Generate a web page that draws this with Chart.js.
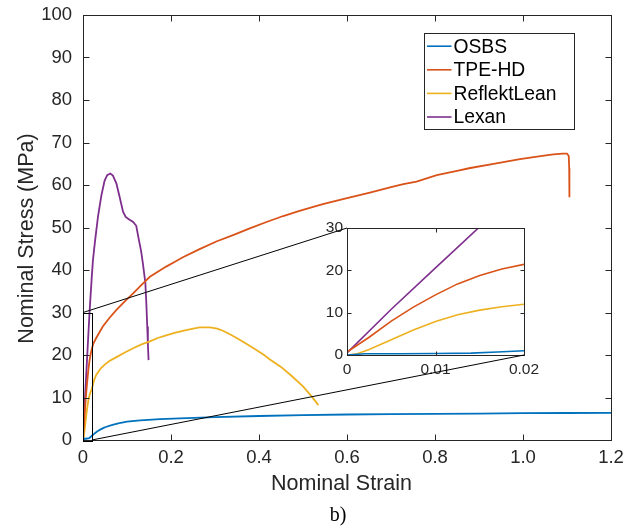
<!DOCTYPE html>
<html>
<head>
<meta charset="utf-8">
<script src="https://cdn.jsdelivr.net/npm/chart.js@4.4.1/dist/chart.umd.min.js"></script>
<style>
  html, body { margin: 0; padding: 0; background: #ffffff; }
  #wrap { position: relative; width: 635px; height: 530px; overflow: hidden; }
  #inset { position: absolute; left: 300px; top: 210px; }
  #main { position: absolute; left: 0; top: 0; }
</style>
</head>
<body>
<div id="wrap">
  <canvas id="inset" width="260" height="190"></canvas>
  <canvas id="main" width="635" height="530"></canvas>
</div>
<script>
// ---------- DATA ----------
const seriesNames = ['OSBS', 'TPE-HD', 'ReflektLean', 'Lexan'];

const osbsStrain = [0, 0.002, 0.006, 0.01, 0.014, 0.017, 0.02, 0.023, 0.027, 0.032, 0.04, 0.046, 0.05, 0.065, 0.08, 0.1, 0.13, 0.175, 0.22, 0.3, 0.4, 0.5, 0.6, 0.7, 0.8, 0.9, 1.0, 1.1, 1.2];
const osbsStress = [0, 0.3, 0.3, 0.35, 0.45, 0.7, 1.0, 1.2, 1.6, 2.0, 2.5, 2.8, 3.0, 3.5, 3.9, 4.3, 4.6, 4.9, 5.1, 5.4, 5.65, 5.85, 6.0, 6.1, 6.15, 6.2, 6.3, 6.35, 6.4];

const tpeStrain = [0, 0.0025, 0.005, 0.0075, 0.01, 0.0125, 0.015, 0.0175, 0.02, 0.0235, 0.03, 0.045, 0.06, 0.076, 0.095, 0.114, 0.133, 0.152, 0.17, 0.189, 0.208, 0.227, 0.265, 0.303, 0.341, 0.379, 0.417, 0.455, 0.492, 0.545, 0.6, 0.652, 0.7, 0.728, 0.758, 0.804, 0.85, 0.88, 0.93, 0.993, 1.04, 1.069, 1.09, 1.1, 1.104, 1.105, 1.1055];
const tpeStress = [0.7, 4.2, 8.0, 11.3, 14.2, 16.8, 18.8, 20.3, 21.4, 22.7, 24.0, 26.7, 28.7, 30.6, 32.6, 34.5, 36.5, 38.4, 39.6, 40.8, 41.9, 43.0, 44.9, 46.7, 48.2, 49.8, 51.3, 52.7, 53.9, 55.5, 56.9, 58.2, 59.5, 60.2, 60.8, 62.3, 63.3, 64.0, 64.9, 66.1, 66.8, 67.2, 67.4, 67.4, 66.8, 64.0, 57.1];

const reflektStrain = [0, 0.001, 0.0025, 0.005, 0.0075, 0.01, 0.0125, 0.015, 0.0175, 0.02, 0.025, 0.03, 0.04, 0.05, 0.06, 0.076, 0.095, 0.114, 0.133, 0.152, 0.17, 0.189, 0.208, 0.227, 0.245, 0.265, 0.288, 0.305, 0.318, 0.337, 0.356, 0.375, 0.394, 0.41, 0.424, 0.45, 0.475, 0.5, 0.52, 0.535];
const reflektStress = [0, 0.2, 1.3, 3.6, 5.9, 7.9, 9.5, 10.6, 11.4, 12.0, 14.0, 15.3, 16.8, 17.8, 18.6, 19.5, 20.6, 21.6, 22.5, 23.2, 24.0, 24.6, 25.2, 25.7, 26.1, 26.5, 26.5, 26.2, 25.7, 24.7, 23.6, 22.4, 21.2, 20.1, 19.0, 17.2, 15.0, 12.6, 10.2, 8.2];

const lexanStrain = [0, 0.005, 0.01, 0.015, 0.02, 0.0227, 0.027, 0.034, 0.0417, 0.049, 0.055, 0.062, 0.068, 0.0758, 0.083, 0.091, 0.097, 0.105, 0.114, 0.121, 0.127, 0.132, 0.136, 0.1417, 0.144, 0.146, 0.1475, 0.149];
const lexanStress = [0.5, 10.8, 20.6, 30.3, 38.5, 42.4, 46.5, 52.5, 57.5, 61.0, 62.3, 62.7, 62.2, 60.4, 57.3, 53.7, 52.5, 51.9, 51.3, 50.4, 47.1, 44.5, 41.6, 37.0, 32.0, 26.7, 22.5, 18.8];

const xTickValues = [0, 0.2, 0.4, 0.6, 0.8, 1, 1.2];
const yTickValues = [0, 10, 20, 30, 40, 50, 60, 70, 80, 90, 100];
const insetXTickValues = [0, 0.01, 0.02];
const insetYTickValues = [0, 10, 20, 30];
const insetXRange = [0, 0.02];
const insetYRange = [0, 30];

const xTitle = 'Nominal Strain';
const yTitle = 'Nominal Stress (MPa)';
const caption = 'b)';

// ---------- STYLE ----------
const seriesColors = ['#0072BD', '#D95319', '#EDB120', '#7E2F8E'];
const axisColor = '#262626';
const sans = "'Liberation Sans', Arial, Helvetica, sans-serif";
Chart.defaults.font.family = sans;
Chart.defaults.color = axisColor;

const seriesData = [
  [osbsStrain, osbsStress],
  [tpeStrain, tpeStress],
  [reflektStrain, reflektStress],
  [lexanStrain, lexanStress]
];

function makeDatasets(lw) {
  return seriesData.map(([xs, ys], i) => ({
    label: seriesNames[i],
    data: xs.map((x, k) => ({ x: x, y: ys[k] })),
    borderColor: seriesColors[i],
    backgroundColor: seriesColors[i],
    borderWidth: lw,
    pointRadius: 0,
    showLine: true,
    tension: 0,
    fill: false
  }));
}

// frame + inward ticks on all four sides
const framePlugin = {
  id: 'frame',
  afterDraw(chart, args, opts) {
    const { ctx, chartArea: a, scales: { x, y } } = chart;
    const L = opts.tick || 6;
    ctx.save();
    ctx.strokeStyle = axisColor;
    ctx.lineWidth = 1;
    const l = Math.round(a.left) + 0.5, r = Math.round(a.right) + 0.5;
    const t = Math.round(a.top) + 0.5, b = Math.round(a.bottom) + 0.5;
    ctx.strokeRect(l, t, r - l, b - t);
    ctx.beginPath();
    x.ticks.forEach(tk => {
      const p = Math.round(x.getPixelForValue(tk.value)) + 0.5;
      ctx.moveTo(p, b); ctx.lineTo(p, b - L);
      ctx.moveTo(p, t); ctx.lineTo(p, t + L);
    });
    y.ticks.forEach(tk => {
      const p = Math.round(y.getPixelForValue(tk.value)) + 0.5;
      ctx.moveTo(l, p); ctx.lineTo(l + L, p);
      ctx.moveTo(r, p); ctx.lineTo(r - L, p);
    });
    ctx.stroke();
    ctx.restore();
  }
};

// ---------- INSET CHART ----------
const insetChart = new Chart(document.getElementById('inset'), {
  type: 'scatter',
  data: { datasets: makeDatasets(1.6) },
  options: {
    responsive: false,
    animation: false,
    devicePixelRatio: 1,
    layout: { padding: { left: 0, top: 18, right: 36, bottom: 0 } },
    plugins: { legend: { display: false }, tooltip: { enabled: false }, frame: { tick: 4 } },
    scales: {
      x: {
        type: 'linear', min: insetXRange[0], max: insetXRange[1],
        afterBuildTicks: s => { s.ticks = insetXTickValues.map(v => ({ value: v })); },
        afterFit: s => { s.height = 45; },
        grid: { display: false, drawTicks: true, tickLength: 5.3 },
        border: { display: false },
        ticks: { font: { size: 15.5 }, padding: 0, maxRotation: 0, color: axisColor }
      },
      y: {
        type: 'linear', min: insetYRange[0], max: insetYRange[1],
        afterBuildTicks: s => { s.ticks = insetYTickValues.map(v => ({ value: v })); },
        afterFit: s => { s.width = 47; },
        grid: { display: false, drawTicks: true, tickLength: 4 },
        border: { display: false },
        ticks: { font: { size: 15.5 }, padding: 0, color: axisColor }
      }
    }
  },
  plugins: [framePlugin]
});
const insetOffset = { left: 300, top: 210 };

// ---------- MAIN CHART PLUGINS ----------
const zoomLinkPlugin = {
  id: 'zoomLink',
  afterDraw(chart) {
    const { ctx, scales: { x, y } } = chart;
    const ia = insetChart.chartArea;
    const x0 = x.getPixelForValue(insetXRange[0]), x1 = x.getPixelForValue(insetXRange[1]);
    const y0 = y.getPixelForValue(insetYRange[0]), y1 = y.getPixelForValue(insetYRange[1]);
    ctx.save();
    ctx.strokeStyle = '#000000';
    ctx.lineWidth = 1;
    ctx.strokeRect(Math.round(x0) + 0.5, Math.round(y1) + 0.5, Math.round(x1 - x0), Math.round(y0 - y1));
    ctx.beginPath();
    ctx.moveTo(x0, y1);
    ctx.lineTo(insetOffset.left + ia.left, insetOffset.top + ia.top);
    ctx.moveTo(x1, y0);
    ctx.lineTo(insetOffset.left + ia.right, insetOffset.top + ia.bottom);
    ctx.stroke();
    ctx.restore();
  }
};

const legendPlugin = {
  id: 'boxLegend',
  afterDraw(chart) {
    const { ctx, chartArea: a } = chart;
    const bx = Math.round(a.right - 187) + 0.5, by = Math.round(a.top + 18) + 0.5;
    const bw = 150, bh = 96;
    ctx.save();
    ctx.fillStyle = '#ffffff';
    ctx.fillRect(bx, by, bw, bh);
    ctx.strokeStyle = axisColor;
    ctx.lineWidth = 1;
    ctx.strokeRect(bx, by, bw, bh);
    ctx.font = '19.3px ' + sans;
    ctx.textBaseline = 'middle';
    ctx.textAlign = 'left';
    chart.data.datasets.forEach((ds, i) => {
      const cy = by + 12.7 + i * 23.6;
      ctx.strokeStyle = ds.borderColor;
      ctx.lineWidth = 1.6;
      ctx.beginPath();
      ctx.moveTo(bx + 2.5, cy);
      ctx.lineTo(bx + 27, cy);
      ctx.stroke();
      ctx.fillStyle = '#000000';
      ctx.fillText(ds.label, bx + 29, cy + 1);
    });
    ctx.restore();
  }
};

const titlePlugin = {
  id: 'axisTitles',
  afterDraw(chart) {
    const { ctx, chartArea: a } = chart;
    ctx.save();
    ctx.fillStyle = axisColor;
    ctx.font = '21.5px ' + sans;
    ctx.textAlign = 'center';
    ctx.textBaseline = 'alphabetic';
    ctx.fillText(xTitle, (a.left + a.right) / 2 - 5.5, a.bottom + 50);
    ctx.save();
    ctx.translate(a.left - 50, (a.top + a.bottom) / 2 + 11);
    ctx.rotate(-Math.PI / 2);
    ctx.fillText(yTitle, 0, 0);
    ctx.restore();
    ctx.fillStyle = '#000000';
    ctx.font = "20px 'Liberation Serif', 'Times New Roman', serif";
    ctx.fillText(caption, (a.left + a.right) / 2 - 9, a.bottom + 81);
    ctx.restore();
  }
};

// ---------- MAIN CHART ----------
new Chart(document.getElementById('main'), {
  type: 'scatter',
  data: { datasets: makeDatasets(1.8) },
  options: {
    responsive: false,
    animation: false,
    devicePixelRatio: 1,
    layout: { padding: { left: 0, top: 15, right: 24, bottom: 0 } },
    plugins: { legend: { display: false }, tooltip: { enabled: false }, frame: { tick: 6 } },
    scales: {
      x: {
        type: 'linear', min: 0, max: 1.2,
        afterBuildTicks: s => { s.ticks = xTickValues.map(v => ({ value: v })); },
        afterFit: s => { s.height = 90; },
        grid: { display: false, drawTicks: true, tickLength: 7 },
        border: { display: false },
        ticks: { font: { size: 18.5 }, padding: 0, maxRotation: 0, color: axisColor }
      },
      y: {
        type: 'linear', min: 0, max: 100,
        afterBuildTicks: s => { s.ticks = yTickValues.map(v => ({ value: v })); },
        afterFit: s => { s.width = 83; },
        grid: { display: false, drawTicks: true, tickLength: 11 },
        border: { display: false },
        ticks: { font: { size: 18.5 }, padding: 0, color: axisColor }
      }
    }
  },
  plugins: [framePlugin, zoomLinkPlugin, legendPlugin, titlePlugin]
});
</script>
</body>
</html>
